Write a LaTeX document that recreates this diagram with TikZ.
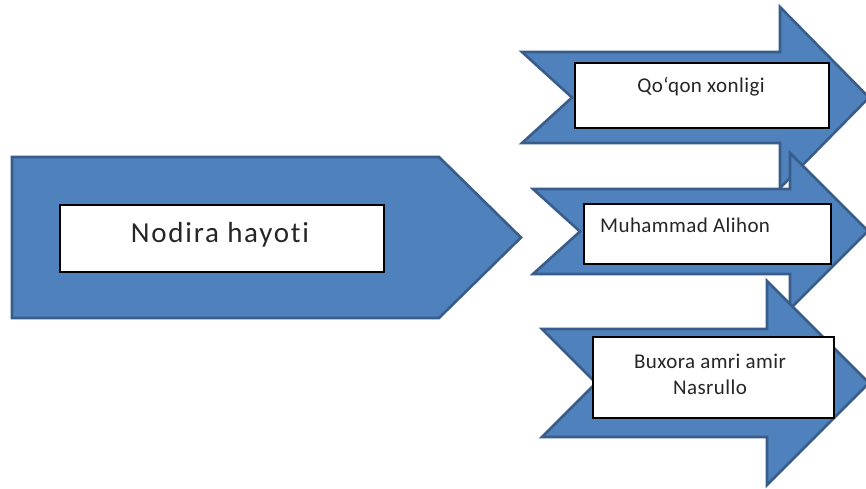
\documentclass[tikz,border=0pt]{standalone}
\usepackage{fontspec}
\setmainfont[Ligatures=NoCommon]{Carlito}
\definecolor{arrowfill}{HTML}{4F81BD}
\definecolor{arrowline}{HTML}{385D8A}
\begin{document}
\begin{tikzpicture}[x=1pt,y=-1pt,
  arrowshape/.style={fill=arrowfill,draw=arrowline,line width=2.6pt,line join=miter},
  whitebox/.style={draw=black,line width=1.8pt,fill=white,inner sep=0pt,anchor=north west},
  lbl/.style={font=\fontsize{21}{26}\selectfont\addfontfeature{LetterSpace=2},text=black!85,inner sep=0pt},
  biglbl/.style={font=\fontsize{29}{34}\selectfont\addfontfeature{LetterSpace=6},text=black!85,inner sep=0pt}]
\useasboundingbox (0,0) rectangle (866,488);
\fill[white] (0,0) rectangle (866,488);
% main pentagon
\draw[arrowshape] (12,157) -- (439,157) -- (521,237.5) -- (439,318) -- (12,318) -- cycle;
\node[whitebox, minimum width=324pt, minimum height=67pt] (b0) at (59,204) {};
\node[biglbl, anchor=base] (t0) at (220,242) {Nodira hayoti};
% arrow 1
\draw[arrowshape] (522,52) -- (780,52) -- (780,7) -- (869,97.5) -- (780,188) -- (780,143) -- (522,143) -- (572,97.5) -- cycle;
\node[whitebox, minimum width=254pt, minimum height=65pt] (b1) at (574,62) {};
\node[lbl, anchor=base] (t1) at (701,92) {Qo‘qon xonligi};
% arrow 2
\draw[arrowshape] (533,189) -- (790,189) -- (790,153) -- (868,231) -- (790,309) -- (790,274) -- (533,274) -- (580,231.5) -- cycle;
\node[whitebox, minimum width=247pt, minimum height=60pt] (b2) at (583,203) {};
\node[lbl, anchor=base west] (t2) at (600,232) {Muhammad Alihon};
% arrow 3
\draw[arrowshape] (542,329) -- (767,329) -- (767,281) -- (869,383) -- (767,485) -- (767,437) -- (542,437) -- (596,383) -- cycle;
\node[whitebox, minimum width=241pt, minimum height=81pt] (b3) at (592,336) {};
\node[lbl, align=center, anchor=center] (t3) at (710,374) {Buxora amri amir\\Nasrullo};
\end{tikzpicture}
\end{document}
